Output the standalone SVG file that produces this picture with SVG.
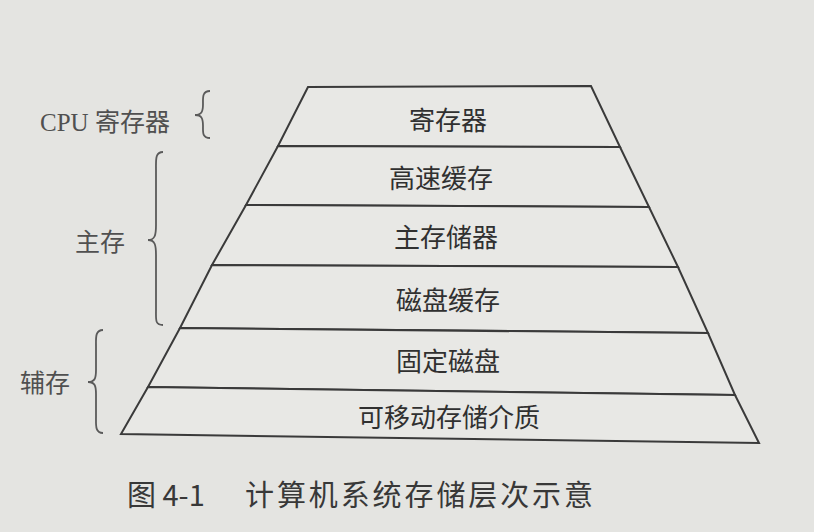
<svg xmlns="http://www.w3.org/2000/svg" width="814" height="532" viewBox="0 0 814 532">
<style>
.bg{fill:#e4e4e1}
.layer{fill:#e8e8e5;stroke:#3a3a3a;stroke-width:2;stroke-linejoin:miter}
.lbl{font-family:"Noto Sans CJK SC","Noto Sans",sans-serif;font-size:26px;fill:#303030;text-anchor:middle;dominant-baseline:central}
.side{font-family:"Liberation Serif","Noto Sans CJK SC",serif;font-size:25px;fill:#505050;dominant-baseline:central}
.brace{fill:none;stroke:#5a5a5a;stroke-width:1.8}
.cap{font-family:"Noto Sans CJK SC","Noto Sans",sans-serif;font-size:29px;fill:#383838;dominant-baseline:central}
</style>
<rect class="bg" x="0" y="0" width="814" height="532"/>
<g id="layers">
<g id="n1"><polygon class="layer" points="308,87 591,86 620,147 278,146"/><text class="lbl" x="448" y="118">寄存器</text></g>
<g id="n2"><polygon class="layer" points="278,146 620,147 649,207 246,205"/><text class="lbl" x="441" y="176">高速缓存</text></g>
<g id="n3"><polygon class="layer" points="246,205 649,207 678,267 212,265"/><text class="lbl" x="446" y="235">主存储器</text></g>
<g id="n4"><polygon class="layer" points="212,265 678,267 708,333 180,328"/><text class="lbl" x="448" y="298">磁盘缓存</text></g>
<g id="n5"><polygon class="layer" points="180,328 708,333 735,395 148,387"/><text class="lbl" x="448" y="359">固定磁盘</text></g>
<g id="n6"><polygon class="layer" points="148,387 735,395 759,443 121,434"/><text class="lbl" x="449" y="415">可移动存储介质</text></g>
</g>
<g id="braces">
<path class="brace" d="M210,91 C202,91 203,98 203,104 C203,111 202,115 195,115 C202,115 203,119 203,126 C203,132 202,138 210,138"/>
<path class="brace" d="M163,152 C155,152 156,160 156,170 L156,225 C156,235 155,240 148,240 C155,240 156,245 156,255 L156,310 C156,320 155,325 163,325"/>
<path class="brace" d="M103,330 C95,330 96,338 96,346 L96,370 C96,378 95,382 88,382 C95,382 96,386 96,394 L96,417 C96,425 95,433 103,433"/>
</g>
<g id="labels">
<text class="side" x="40" y="122">CPU 寄存器</text>
<text class="side" x="75" y="242" font-family="Noto Sans CJK SC,sans-serif">主存</text>
<text class="side" x="20" y="383" font-family="Noto Sans CJK SC,sans-serif">辅存</text>
</g>
<g id="caption">
<text class="cap" x="127" y="493">图 4-1</text>
<text class="cap" x="245" y="493" textLength="348">计算机系统存储层次示意</text>
</g>
</svg>
